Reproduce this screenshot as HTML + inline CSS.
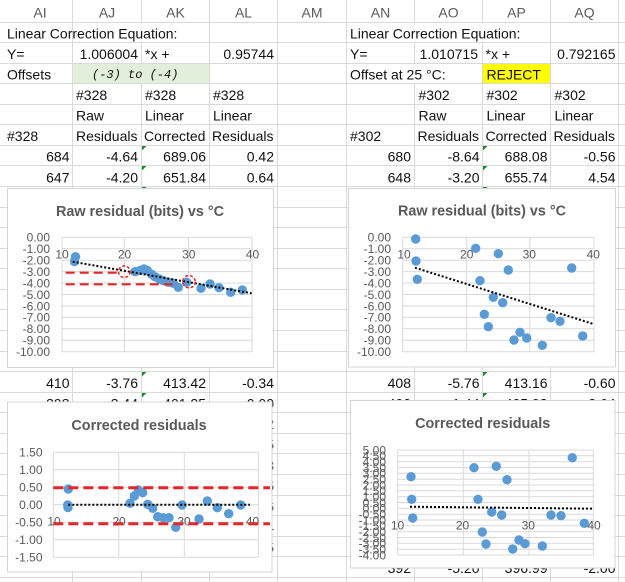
<!DOCTYPE html>
<html><head><meta charset="utf-8">
<style>
html,body{margin:0;padding:0;background:#fff;width:625px;height:582px;overflow:hidden}
svg{display:block}
text{font-family:"Liberation Sans",Arial,sans-serif}
.c{font-size:14px;fill:#111}
.r{text-anchor:end}
.h{font-size:14px;fill:#5a5a5a;text-anchor:middle}
.ax{font-size:12px;fill:#595959}
.ttl{font-size:14.4px;font-weight:bold;fill:#595959;text-anchor:middle}
.g{stroke:#d9d9d9;stroke-width:1;fill:none}
.pt{fill:#5b9bd5}
.tl{stroke:#000;stroke-width:2;stroke-dasharray:2 2;fill:none}
.rd{stroke:#e4262a;fill:none}
</style></head><body>
<svg width="625" height="582" viewBox="0 0 625 582" xmlns="http://www.w3.org/2000/svg">
<rect width="625" height="582" fill="#fff"/>
<!-- grid -->
<path stroke="#dadada" stroke-width="1" fill="none" d="
M0 22.5H625 M0 42.5H625 M0 63.5H625 M0 83.5H625 M0 104.5H625 M0 124.5H625 M0 145.5H625 M0 165.5H625 M0 186.5H625
M0 207.5H625 M0 227.5H625 M0 248.5H625 M0 268.5H625 M0 289.5H625 M0 309.5H625 M0 330.5H625 M0 351.5H625 M0 371.5H625
M0 392.5H625 M0 412.5H625 M0 433.5H625 M0 453.5H625 M0 474.5H625 M0 495.5H625 M0 515.5H625 M0 536.5H625 M0 556.5H625 M0 577.5H625
M72.5 0V582 M141.5 0V582 M209.5 0V582 M277.5 0V582 M346.5 0V582 M414.5 0V582 M482.5 0V582 M550.5 0V582 M618.5 0V582"/>
<!-- overflow masks -->
<rect x="73" y="23" width="136" height="19" fill="#fff"/>
<rect x="347" y="23" width="203" height="19" fill="#fff"/>
<rect x="347" y="64" width="135" height="19" fill="#fff"/>
<!-- fills -->
<rect x="73" y="64" width="136" height="19" fill="#e2efda"/>
<rect x="483" y="64" width="67" height="19" fill="#ffff00"/>

<!-- headers -->
<text class="h" x="40" y="17.5">AI</text>
<text class="h" x="107" y="17.5">AJ</text>
<text class="h" x="175.5" y="17.5">AK</text>
<text class="h" x="243.5" y="17.5">AL</text>
<text class="h" x="312" y="17.5">AM</text>
<text class="h" x="380.5" y="17.5">AN</text>
<text class="h" x="448.5" y="17.5">AO</text>
<text class="h" x="516.5" y="17.5">AP</text>
<text class="h" x="584.5" y="17.5">AQ</text>

<!-- left block -->
<text class="c" x="7" y="38.3">Linear Correction Equation:</text>
<text class="c" x="7" y="58.9">Y=</text>
<text class="c r" x="138" y="58.9">1.006004</text>
<text class="c" x="145" y="58.9">*x +</text>
<text class="c r" x="274" y="58.9">0.95744</text>
<text class="c" x="7" y="79.4">Offsets</text>
<text x="92" y="78" style="font-family:'Liberation Mono',monospace;font-style:italic;font-size:12px;fill:#111">(-3) to (-4)</text>
<text class="c" x="76" y="100">#328</text>
<text class="c" x="145" y="100">#328</text>
<text class="c" x="213" y="100">#328</text>
<text class="c" x="76" y="120.6">Raw</text>
<text class="c" x="145" y="120.6">Linear</text>
<text class="c" x="213" y="120.6">Linear</text>
<text class="c" x="7" y="141.2">#328</text>
<text class="c" x="76" y="141.2">Residuals</text>
<text class="c" x="144" y="141.2">Corrected</text>
<text class="c" x="212" y="141.2">Residuals</text>
<text class="c r" x="69.5" y="161.7">684</text><text class="c r" x="138" y="161.7">-4.64</text><text class="c r" x="206" y="161.7">689.06</text><text class="c r" x="274" y="161.7">0.42</text>
<text class="c r" x="69.5" y="182.3">647</text><text class="c r" x="138" y="182.3">-4.20</text><text class="c r" x="206" y="182.3">651.84</text><text class="c r" x="274" y="182.3">0.64</text>
<text class="c r" x="69.5" y="388">410</text><text class="c r" x="138" y="388">-3.76</text><text class="c r" x="206" y="388">413.42</text><text class="c r" x="274" y="388">-0.34</text>
<text class="c r" x="69.5" y="408.6">398</text><text class="c r" x="138" y="408.6">-3.44</text><text class="c r" x="206" y="408.6">401.25</text><text class="c r" x="274" y="408.6">0.00</text>
<text class="c r" x="274" y="429.1">0.02</text><text class="c r" x="274" y="449.7">0.05</text><text class="c r" x="274" y="470.3">-0.03</text>
<text class="c r" x="274" y="490.8">0.25</text><text class="c r" x="274" y="511.4">0.36</text><text class="c r" x="274" y="532">0.44</text>
<text class="c r" x="274" y="552.6">0.05</text>

<!-- right block -->
<text class="c" x="350" y="38.3">Linear Correction Equation:</text>
<text class="c" x="350" y="58.9">Y=</text>
<text class="c r" x="478" y="58.9">1.010715</text>
<text class="c" x="485.5" y="58.9">*x +</text>
<text class="c r" x="615.5" y="58.9">0.792165</text>
<text class="c" x="350" y="79.4">Offset at 25 °C:</text>
<text class="c" x="486.5" y="79.4">REJECT</text>
<text class="c" x="418.5" y="100">#302</text>
<text class="c" x="486.5" y="100">#302</text>
<text class="c" x="554.5" y="100">#302</text>
<text class="c" x="418.5" y="120.6">Raw</text>
<text class="c" x="486.5" y="120.6">Linear</text>
<text class="c" x="554.5" y="120.6">Linear</text>
<text class="c" x="350" y="141.2">#302</text>
<text class="c" x="417.5" y="141.2">Residuals</text>
<text class="c" x="485.5" y="141.2">Corrected</text>
<text class="c" x="553.5" y="141.2">Residuals</text>
<text class="c r" x="411" y="161.7">680</text><text class="c r" x="479.5" y="161.7">-8.64</text><text class="c r" x="547.5" y="161.7">688.08</text><text class="c r" x="615.5" y="161.7">-0.56</text>
<text class="c r" x="411" y="182.3">648</text><text class="c r" x="479.5" y="182.3">-3.20</text><text class="c r" x="547.5" y="182.3">655.74</text><text class="c r" x="615.5" y="182.3">4.54</text>
<text class="c r" x="411" y="388">408</text><text class="c r" x="479.5" y="388">-5.76</text><text class="c r" x="547.5" y="388">413.16</text><text class="c r" x="615.5" y="388">-0.60</text>
<text class="c r" x="411" y="408.6">400</text><text class="c r" x="479.5" y="408.6">-1.44</text><text class="c r" x="547.5" y="408.6">405.03</text><text class="c r" x="615.5" y="408.6">2.64</text>
<text class="c r" x="411" y="573.1">392</text><text class="c r" x="479.5" y="573.1">-5.20</text><text class="c r" x="547.5" y="573.1">396.99</text><text class="c r" x="615.5" y="573.1">-2.00</text>

<!-- green triangles -->
<g fill="#1f8a2a">
<polygon points="142,146 146.5,146 142,150.5"/><polygon points="142,166 146.5,166 142,170.5"/><polygon points="142,187 146.5,187 142,191.5"/>
<polygon points="142,372 146.5,372 142,376.5"/><polygon points="142,393 146.5,393 142,397.5"/>
<polygon points="483,146 487.5,146 483,150.5"/><polygon points="483,166 487.5,166 483,170.5"/><polygon points="483,187 487.5,187 483,191.5"/>
<polygon points="483,372 487.5,372 483,376.5"/><polygon points="483,393 487.5,393 483,397.5"/>
</g>

<!-- ============ CHART 1 ============ -->
<rect x="7.5" y="188.5" width="266" height="179" fill="#fff" stroke="#d4d4d4"/>
<text class="ttl" x="140" y="216">Raw residual (bits) vs °C</text>
<path class="g" d="M62 237.3H252 M62 248.7H252 M62 260.2H252 M62 271.6H252 M62 283.1H252 M62 294.5H252 M62 306H252 M62 317.4H252 M62 328.8H252 M62 340.3H252 M62 351.7H252
M62 237.3V351.7 M124.3 237.3V351.7 M188.5 237.3V351.7 M252 237.3V351.7"/>
<g class="ax" text-anchor="end">
<text x="50" y="241.6">0.00</text><text x="50" y="253">-1.00</text><text x="50" y="264.5">-2.00</text><text x="50" y="275.9">-3.00</text>
<text x="50" y="287.4">-4.00</text><text x="50" y="298.8">-5.00</text><text x="50" y="310.3">-6.00</text><text x="50" y="321.7">-7.00</text>
<text x="50" y="333.1">-8.00</text><text x="50" y="344.6">-9.00</text><text x="50" y="356">-10.00</text>
</g>
<g class="ax" text-anchor="middle">
<text x="62" y="258.5">10</text><text x="124.5" y="258.5">20</text><text x="188.8" y="258.5">30</text><text x="252.5" y="258.5">40</text>
</g>
<g class="pt">
<circle cx="75.5" cy="256.7" r="4.7"/><circle cx="74.5" cy="261.5" r="4.7"/>
<circle cx="135" cy="271.7" r="4.7"/><circle cx="140" cy="270.5" r="4.7"/><circle cx="144" cy="269" r="4.7"/><circle cx="147.3" cy="270.5" r="4.7"/>
<circle cx="151.7" cy="274.3" r="4.7"/><circle cx="155" cy="276.7" r="4.7"/><circle cx="159.3" cy="279" r="4.7"/><circle cx="163.3" cy="280.7" r="4.7"/>
<circle cx="168.3" cy="282.3" r="4.7"/><circle cx="173.3" cy="283.3" r="4.7"/><circle cx="178.3" cy="287.3" r="4.7"/><circle cx="186.7" cy="282.3" r="4.7"/>
<circle cx="201" cy="288.3" r="4.7"/><circle cx="210" cy="284" r="4.7"/><circle cx="219" cy="287.7" r="4.7"/><circle cx="230.7" cy="292.3" r="4.7"/><circle cx="242.3" cy="290" r="4.7"/>
</g>
<line class="tl" x1="72.7" y1="261.7" x2="251.7" y2="293.3"/>
<line class="rd" x1="65.7" y1="272.7" x2="118" y2="272.7" stroke-width="2.2" stroke-dasharray="9 5"/>
<line class="rd" x1="65.7" y1="284.3" x2="178" y2="284.3" stroke-width="2.2" stroke-dasharray="9 5"/>
<circle class="rd" cx="124.3" cy="271.7" r="5.8" stroke-width="1.5" stroke-dasharray="3 2"/>
<circle class="rd" cx="189" cy="281.7" r="6.2" stroke-width="1.5" stroke-dasharray="3 2"/>

<!-- ============ CHART 2 ============ -->
<rect x="348.5" y="188.5" width="267" height="178.5" fill="#fff" stroke="#d4d4d4"/>
<text class="ttl" x="482" y="215.5">Raw residual (bits) vs °C</text>
<path class="g" d="M402.7 237.3H594 M402.7 248.7H594 M402.7 260.2H594 M402.7 271.6H594 M402.7 283.1H594 M402.7 294.5H594 M402.7 306H594 M402.7 317.4H594 M402.7 328.8H594 M402.7 340.3H594 M402.7 351.7H594
M402.7 237.3V351.7 M466.7 237.3V351.7 M529.8 237.3V351.7 M594 237.3V351.7"/>
<g class="ax" text-anchor="end">
<text x="391" y="241.6">0.00</text><text x="391" y="253">-1.00</text><text x="391" y="264.5">-2.00</text><text x="391" y="275.9">-3.00</text>
<text x="391" y="287.4">-4.00</text><text x="391" y="298.8">-5.00</text><text x="391" y="310.3">-6.00</text><text x="391" y="321.7">-7.00</text>
<text x="391" y="333.1">-8.00</text><text x="391" y="344.6">-9.00</text><text x="391" y="356">-10.00</text>
</g>
<g class="ax" text-anchor="middle">
<text x="404" y="258.5">10</text><text x="466.7" y="258.5">20</text><text x="529.3" y="258.5">30</text><text x="593.3" y="258.5">40</text>
</g>
<g class="pt">
<circle cx="415.7" cy="239" r="4.7"/><circle cx="416" cy="261" r="4.7"/><circle cx="417.3" cy="279.3" r="4.7"/>
<circle cx="475.7" cy="248.3" r="4.7"/><circle cx="480" cy="280.7" r="4.7"/><circle cx="484.3" cy="314.3" r="4.7"/><circle cx="488.3" cy="326.7" r="4.7"/>
<circle cx="493.3" cy="297.3" r="4.7"/><circle cx="498.3" cy="253.7" r="4.7"/><circle cx="502.7" cy="302.7" r="4.7"/><circle cx="508.3" cy="270" r="4.7"/>
<circle cx="514" cy="340" r="4.7"/><circle cx="520" cy="332.3" r="4.7"/><circle cx="526.7" cy="338" r="4.7"/><circle cx="542.3" cy="345.3" r="4.7"/>
<circle cx="551" cy="317.7" r="4.7"/><circle cx="560" cy="321.3" r="4.7"/><circle cx="571.7" cy="268" r="4.7"/><circle cx="582.7" cy="336" r="4.7"/>
</g>
<line class="tl" x1="415" y1="267.7" x2="593.3" y2="324"/>

<!-- ============ CHART 3 ============ -->
<rect x="7.5" y="402" width="264.5" height="170" fill="#fff" stroke="#d4d4d4"/>
<text class="ttl" x="139" y="430">Corrected residuals</text>
<path class="g" d="M53.3 452.3H258.3 M53.3 469.8H258.3 M53.3 487.3H258.3 M53.3 504.8H258.3 M53.3 522.3H258.3 M53.3 539.8H258.3 M53.3 557.3H258.3
M53.3 452.3V557.3 M118.8 452.3V557.3 M184.3 452.3V557.3 M258.3 452.3V557.3"/>
<g class="ax" text-anchor="end">
<text x="42.5" y="456.6">1.50</text><text x="42.5" y="474.1">1.00</text><text x="42.5" y="491.6">0.50</text><text x="42.5" y="509.1">0.00</text>
<text x="42.5" y="526.6">-0.50</text><text x="42.5" y="544.1">-1.00</text><text x="42.5" y="561.6">-1.50</text>
</g>
<g class="ax" text-anchor="middle">
<text x="54" y="525.3">10</text><text x="119" y="525.3">20</text><text x="184" y="525.3">30</text><text x="252.5" y="525.3">40</text>
</g>
<g class="pt">
<circle cx="68.3" cy="489" r="4.7"/><circle cx="67.7" cy="505" r="4.7"/><circle cx="68" cy="507.5" r="4.7"/>
<circle cx="130" cy="503.3" r="4.7"/><circle cx="134.3" cy="496" r="4.7"/><circle cx="138.3" cy="490" r="4.7"/><circle cx="142.7" cy="492.7" r="4.7"/>
<circle cx="147.7" cy="504.3" r="4.7"/><circle cx="152.7" cy="508.3" r="4.7"/><circle cx="157.7" cy="516.7" r="4.7"/><circle cx="163.3" cy="517.7" r="4.7"/>
<circle cx="169" cy="517.7" r="4.7"/><circle cx="175.7" cy="527.3" r="4.7"/><circle cx="182" cy="505" r="4.7"/><circle cx="199" cy="519" r="4.7"/>
<circle cx="207.3" cy="501" r="4.7"/><circle cx="217.3" cy="507.7" r="4.7"/><circle cx="228.7" cy="513.7" r="4.7"/><circle cx="240.7" cy="505" r="4.7"/>
</g>
<line class="tl" x1="68.3" y1="504.8" x2="250" y2="504.8"/>
<line class="rd" x1="53.3" y1="487.7" x2="270" y2="487.7" stroke-width="3" stroke-dasharray="10 5"/>
<line class="rd" x1="53.3" y1="523.7" x2="270" y2="523.7" stroke-width="3" stroke-dasharray="10 5"/>

<!-- ============ CHART 4 ============ -->
<rect x="350.5" y="400.5" width="264.5" height="167.5" fill="#fff" stroke="#d4d4d4"/>
<text class="ttl" x="482.7" y="428">Corrected residuals</text>
<path class="g" d="M397.7 450H593.3 M397.7 455.8H593.3 M397.7 461.7H593.3 M397.7 467.5H593.3 M397.7 473.3H593.3 M397.7 479.2H593.3 M397.7 485H593.3 M397.7 490.8H593.3 M397.7 496.7H593.3 M397.7 502.5H593.3 M397.7 508.3H593.3 M397.7 514.2H593.3 M397.7 520H593.3 M397.7 525.8H593.3 M397.7 531.7H593.3 M397.7 537.5H593.3 M397.7 543.3H593.3 M397.7 549.2H593.3 M397.7 555H593.3
M397.7 450V555 M463.3 450V555 M529 450V555 M593.3 450V555"/>
<g class="ax" text-anchor="end">
<text x="386" y="454.3">5.00</text><text x="386" y="460.1">4.50</text><text x="386" y="466">4.00</text><text x="386" y="471.8">3.50</text>
<text x="386" y="477.6">3.00</text><text x="386" y="483.5">2.50</text><text x="386" y="489.3">2.00</text><text x="386" y="495.1">1.50</text>
<text x="386" y="501">1.00</text><text x="386" y="506.8">0.50</text><text x="386" y="512.6">0.00</text><text x="386" y="518.5">-0.50</text>
<text x="386" y="524.3">-1.00</text><text x="386" y="530.1">-1.50</text><text x="386" y="536">-2.00</text><text x="386" y="541.8">-2.50</text>
<text x="386" y="547.6">-3.00</text><text x="386" y="553.5">-3.50</text><text x="386" y="559.3">-4.00</text>
</g>
<g class="ax" text-anchor="middle">
<text x="397.5" y="529.3">10</text><text x="462.5" y="529.3">20</text><text x="528.3" y="529.3">30</text><text x="594" y="529.3">40</text>
</g>
<g class="pt">
<circle cx="411" cy="476.7" r="4.7"/><circle cx="411.7" cy="499.3" r="4.7"/><circle cx="412.7" cy="518" r="4.7"/>
<circle cx="474" cy="467.7" r="4.7"/><circle cx="478" cy="499.3" r="4.7"/><circle cx="482.3" cy="532" r="4.7"/><circle cx="486" cy="544" r="4.7"/>
<circle cx="491.7" cy="512" r="4.7"/><circle cx="496.3" cy="466.3" r="4.7"/><circle cx="501.7" cy="515" r="4.7"/><circle cx="507" cy="479.7" r="4.7"/>
<circle cx="512.7" cy="549" r="4.7"/><circle cx="519" cy="540" r="4.7"/><circle cx="525" cy="543.7" r="4.7"/><circle cx="542.3" cy="546" r="4.7"/>
<circle cx="551" cy="515" r="4.7"/><circle cx="561" cy="515.7" r="4.7"/><circle cx="572.3" cy="457.7" r="4.7"/><circle cx="584.3" cy="523.3" r="4.7"/>
</g>
<line class="tl" x1="410" y1="506.7" x2="593.3" y2="508.7"/>
</svg>
</body></html>
